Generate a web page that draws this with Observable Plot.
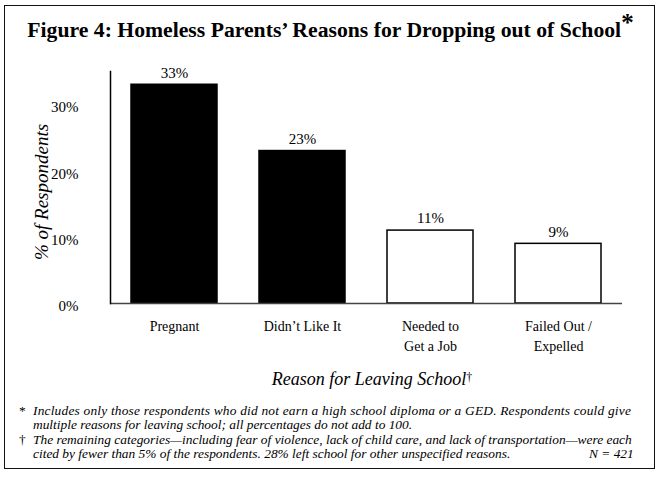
<!DOCTYPE html>
<html>
<head>
<meta charset="utf-8">
<script src="https://cdn.jsdelivr.net/npm/d3@7"></script>
<script src="https://cdn.jsdelivr.net/npm/@observablehq/plot@0.6"></script>
<style>
  html, body { margin: 0; padding: 0; background: #fff; }
  #wrap { position: relative; width: 661px; height: 480px; overflow: hidden; font-family: "Liberation Serif", "Times New Roman", serif; color: #000; }
  #wrap svg { position: absolute; left: 0; top: 0; }
  .abs { position: absolute; white-space: nowrap; }
  #box { position: absolute; left: 4px; top: 5px; width: 651px; height: 464px; border: 1.5px solid #111; box-sizing: border-box; }
  #title { left: 0; width: 661px; top: 15px; text-align: center; font-weight: bold; font-size: 21.7px; }
  .ital { font-style: italic; }
  .fn { font-style: italic; font-size: 13.4px; line-height: 13px; }
</style>
</head>
<body>
<div id="wrap">
  <div id="box"></div>
  <div id="chart"></div>
  <div id="title" class="abs">Figure 4: Homeless Parents’ Reasons for Dropping out of School<span style="font-size:25px;position:relative;top:-6px">*</span></div>
  <div id="ylab" class="abs ital" style="font-size:19px; left:42px; top:192px; transform: translate(-50%,-50%) rotate(-90deg);">% of Respondents</div>
  <div id="xlab" class="abs ital" style="font-size:18px; left:372px; top:379px; transform: translate(-50%,-50%);">Reason for Leaving School<span style="font-style:normal;font-size:12px;position:relative;top:-4px">†</span></div>
  <div class="abs fn" style="left:19px; top:404px; font-style:normal;">*</div>
  <div class="abs fn" style="left:33px; top:404px; letter-spacing:0.2px;">Includes only those respondents who did not earn a high school diploma or a GED. Respondents could give</div>
  <div class="abs fn" style="left:33px; top:418px;">multiple reasons for leaving school; all percentages do not add to 100.</div>
  <div class="abs fn" style="left:19px; top:433px; font-style:normal;">†</div>
  <div class="abs fn" style="left:33px; top:433px;">The remaining categories—including fear of violence, lack of child care, and lack of transportation—were each</div>
  <div class="abs fn" style="left:33px; top:447px;">cited by fewer than 5% of the respondents. 28% left school for other unspecified reasons.</div>
  <div class="abs fn" style="left:589px; top:447px;">N = 421</div>
</div>
<script>
const categories = ["Pregnant", "Didn’t Like It", "Needed to\nGet a Job", "Failed Out /\nExpelled"];
const values = [33, 23, 11, 9];
const highlighted = [true, true, false, false];
const yTicks = [0, 10, 20, 30];

const data = categories.map((c, i) => ({reason: c, pct: values[i], dark: highlighted[i]}));
const font = "Liberation Serif, Times New Roman, serif";

const chart = Plot.plot({
  width: 661,
  height: 480,
  marginLeft: 110,
  marginRight: 39,
  marginTop: 71,
  marginBottom: 177,
  style: {fontFamily: font, fontSize: "14px", background: "transparent", color: "#000"},
  x: {domain: categories, paddingInner: 0.33, paddingOuter: 0.165, label: null},
  y: {domain: [0, 35], label: null},
  marks: [
    Plot.barY(data, {x: "reason", y: "pct", fill: d => d.dark ? "#000" : "#fff", stroke: "#000", strokeWidth: 1.5}),
    Plot.text(data, {x: "reason", y: "pct", text: d => d.pct + "%", dy: -12, fontSize: 15, fill: "#000"}),
    Plot.ruleY([0], {stroke: "#444", strokeWidth: 1.5}),
    Plot.frame({anchor: "left", stroke: "#000", strokeWidth: 1.5}),
    Plot.axisY({ticks: yTicks, tickFormat: d => d + "%", tickSize: 0, tickPadding: 32, fontSize: 15, dy: 3, label: null}),
    Plot.axisX({tickSize: 0, tickPadding: 14, fontSize: 14, lineHeight: 1.4, label: null})
  ]
});
document.getElementById("chart").appendChild(chart);
</script>
</body>
</html>
